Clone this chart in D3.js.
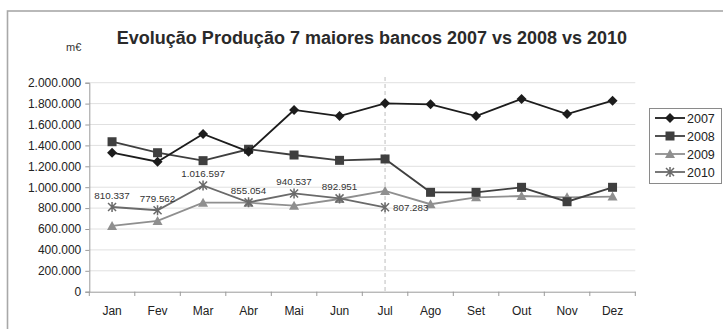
<!DOCTYPE html>
<html><head><meta charset="utf-8">
<script src="https://cdn.jsdelivr.net/npm/d3@7"></script>
<style>
html,body{margin:0;padding:0;background:#fff;}
svg{display:block;font-family:"Liberation Sans",Arial,sans-serif;}
</style></head>
<body>
<svg id="c" width="723" height="329"></svg>
<script>
const months = ["Jan","Fev","Mar","Abr","Mai","Jun","Jul","Ago","Set","Out","Nov","Dez"];
const s2007 = [1330000,1244000,1509000,1340000,1739000,1681000,1803000,1793000,1681000,1844000,1700000,1828000];
const s2008 = [1435000,1330000,1254000,1363000,1308000,1257000,1270000,951000,951000,999000,861000,999000];
const s2009 = [629000,677000,852000,852000,823000,887000,964000,837000,903000,916000,903000,910000];
const s2010 = [810337,779562,1016597,855054,940537,892951,807283];
const yTicks = [0,200000,400000,600000,800000,1000000,1200000,1400000,1600000,1800000,2000000];
const seriesNames = ["2007","2008","2009","2010"];
const titleText = "Evolução Produção 7 maiores bancos 2007 vs 2008 vs 2010";
const unitText = "m€";
const markerMonth = "Jul";

const svg = d3.select("#c");
const fmt = v => d3.format(",")(v).replace(/,/g,".");

// frame
svg.append("rect").attr("x",7.5).attr("y",11).attr("width",730).attr("height",340)
  .attr("fill","none").attr("stroke","#a8a8a8").attr("stroke-width",1.6);

const x = d3.scaleBand().domain(months).range([89.3,635.3]);
const y = d3.scaleLinear().domain([0,2000000]).range([291.7,82.7]);

// gridlines
svg.append("g").selectAll("line").data(yTicks.slice(1)).join("line")
  .attr("x1",89.3).attr("x2",635.3).attr("y1",d=>y(d)).attr("y2",d=>y(d))
  .attr("stroke","#e0e0e0").attr("stroke-width",1);

// y axis
const ya = svg.append("g").attr("transform","translate(89.3,0)")
  .call(d3.axisLeft(y).tickValues(yTicks).tickFormat(fmt).tickSize(4).tickPadding(4));
ya.select(".domain").attr("stroke","#9a9a9a");
ya.selectAll(".tick line").attr("stroke","#9a9a9a");
ya.selectAll("text").attr("font-size",12).attr("fill","#222").attr("font-family","Liberation Sans, Arial, sans-serif");

// x axis
const xa = svg.append("g").attr("transform","translate(0,291.7)")
  .call(d3.axisBottom(x).tickSize(0).tickPadding(15));
xa.select(".domain").attr("stroke","#9a9a9a");
xa.selectAll("text").attr("font-size",12).attr("fill","#222").attr("font-family","Liberation Sans, Arial, sans-serif");
svg.append("g").selectAll("line").data(d3.range(months.length+1)).join("line")
  .attr("x1",i=>89.3+i*x.step()).attr("x2",i=>89.3+i*x.step())
  .attr("y1",291.7).attr("y2",296).attr("stroke","#9a9a9a");

// dashed vertical at Jul
const xm = x(markerMonth)+x.bandwidth()/2;
svg.append("line").attr("x1",xm).attr("x2",xm).attr("y1",77).attr("y2",291.7)
  .attr("stroke","#bdbdbd").attr("stroke-dasharray","4,3").attr("stroke-width",1);

const cx = i => x(months[i])+x.bandwidth()/2;
const line = d3.line().x((d,i)=>cx(i)).y(d=>y(d));

const colors = {"2007":"#1c1c1c","2008":"#3f3f3f","2009":"#8f8f8f","2010":"#6a6a6a"};
const data = {"2007":s2007,"2008":s2008,"2009":s2009,"2010":s2010};
const shapes = {
  "2007":"M0,-5L5,0L0,5L-5,0Z",
  "2008":"M-4.5,-4.5L4.5,-4.5L4.5,4.5L-4.5,4.5Z",
  "2009":"M0,-5L5,4L-5,4Z",
  "2010":"M-4,-4L4,4M-4,4L4,-4M0,-5L0,5"
};

function drawMarker(g, name, px, py){
  const col = colors[name];
  const p = g.append("path").attr("transform",`translate(${px},${py})`).attr("d",shapes[name]);
  if(name==="2010") p.attr("stroke",col).attr("stroke-width",1.5).attr("fill","none");
  else p.attr("fill",col);
}

// draw order: 2009, 2010, 2008, 2007
["2009","2010","2008","2007"].forEach(name=>{
  const g = svg.append("g");
  g.append("path").datum(data[name]).attr("d",line).attr("fill","none")
    .attr("stroke",colors[name]).attr("stroke-width",1.8);
  data[name].forEach((v,i)=>drawMarker(g,name,cx(i),y(v)));
});

// 2010 labels
svg.append("g").selectAll("text").data(s2010).join("text")
  .attr("x",(d,i)=> i===s2010.length-1 ? cx(i)+8 : cx(i))
  .attr("y",(d,i)=> i===s2010.length-1 ? y(d)+3.5 : y(d)-8)
  .attr("text-anchor",(d,i)=> i===s2010.length-1 ? "start":"middle")
  .attr("font-size",9.8).attr("fill","#333").text(fmt);

// title
svg.append("text").attr("x",372).attr("y",44).attr("text-anchor","middle")
  .attr("font-size",18).attr("font-weight","bold").attr("fill","#2a2a2a").text(titleText);
svg.append("text").attr("x",66).attr("y",51).attr("font-size",11).attr("fill","#333").text(unitText);

// legend
const lg = svg.append("g");
lg.append("rect").attr("x",649.5).attr("y",108.5).attr("width",72).attr("height",75)
  .attr("fill","#fff").attr("stroke","#8a8a8a");
seriesNames.forEach((name,k)=>{
  const ly = 118 + k*18;
  lg.append("line").attr("x1",655).attr("x2",685).attr("y1",ly).attr("y2",ly)
    .attr("stroke",colors[name]).attr("stroke-width",1.8);
  drawMarker(lg,name,670,ly);
  lg.append("text").attr("x",687).attr("y",ly+4.5).attr("font-size",12.5).attr("fill","#222").text(name);
});
</script>
</body></html>
